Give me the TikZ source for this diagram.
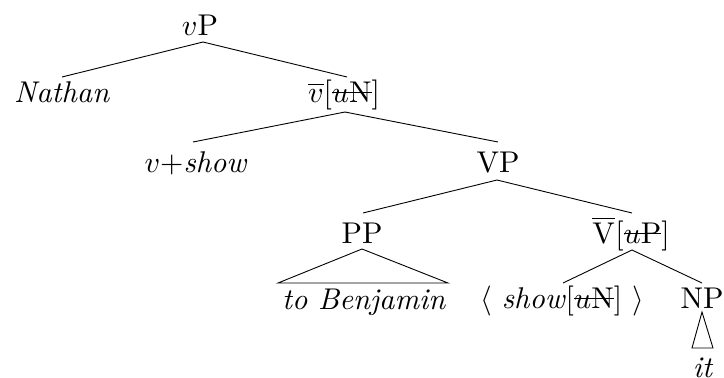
\documentclass[tikz,border=0pt]{standalone}
\usepackage{graphicx}
\usepackage{tikz}
\newcommand\strk[1]{\setbox0\hbox{#1}\rlap{\rule[0.3em]{\wd0}{0.04em}}\box0}
\newcommand\tx[1]{\scalebox{3}{#1}}
\begin{document}
\begin{tikzpicture}[x=1pt,y=-1pt,
  lbl/.style={anchor=base,inner sep=0pt},
  edge/.style={line width=0.9pt}]
\useasboundingbox (0,0) rectangle (724,378);
\node[lbl] (vP) at (200,35) {\tx{$v$P}};
\node[lbl] (Nathan) at (62,102) {\tx{\textit{Nathan}}};
\node[lbl] (vbar) at (344,102) {\tx{$\overline{v}$[\strk{$u$N}]}};
\node[lbl] (vshow) at (196,172) {\tx{$v$+\textit{show}}};
\node[lbl] (VP) at (498,172) {\tx{VP}};
\node[lbl] (PP) at (362,243) {\tx{PP}};
\node[lbl] (Vbar) at (631,243) {\tx{$\overline{\mathrm{V}}$[\strk{$u$P}]}};
\node[lbl] (toB) at (364,309) {\tx{\textit{to Benjamin}}};
\node[lbl] (show) at (562,308) {\tx{$\langle$\ \textit{show}[\strk{$u$N}]\ $\rangle$}};
\node[lbl] (NP) at (702,308) {\tx{NP}};
\node[lbl] (it) at (703,377) {\tx{\textit{it}}};
\draw[edge] ([xshift=3pt,yshift=-7pt]vP.base) -- ([yshift=25pt]Nathan.base);
\draw[edge] ([xshift=3pt,yshift=-7pt]vP.base) -- ([xshift=3pt,yshift=25pt]vbar.base);
\draw[edge] ([xshift=1pt,yshift=-10pt]vbar.base) -- ([xshift=-3pt,yshift=30pt]vshow.base);
\draw[edge] ([xshift=1pt,yshift=-10pt]vbar.base) -- ([yshift=30pt]VP.base);
\draw[edge] ([xshift=-1pt,yshift=-8pt]VP.base) -- ([xshift=1pt,yshift=30pt]PP.base);
\draw[edge] ([xshift=-1pt,yshift=-8pt]VP.base) -- ([xshift=1pt,yshift=30pt]Vbar.base);
\draw[edge] ([yshift=-6pt]PP.base) -- ([xshift=-86pt,yshift=26pt]toB.base) -- ([xshift=84pt,yshift=26pt]toB.base) -- cycle;
\draw[edge] ([xshift=1pt,yshift=-7pt]Vbar.base) -- ([xshift=1pt,yshift=25pt]show.base);
\draw[edge] ([xshift=1pt,yshift=-7pt]Vbar.base) -- ([yshift=25pt]NP.base);
\draw[edge] ([yshift=-4pt]NP.base) -- ([xshift=-11pt,yshift=29pt]it.base) -- ([xshift=10pt,yshift=29pt]it.base) -- cycle;
\end{tikzpicture}
\end{document}
